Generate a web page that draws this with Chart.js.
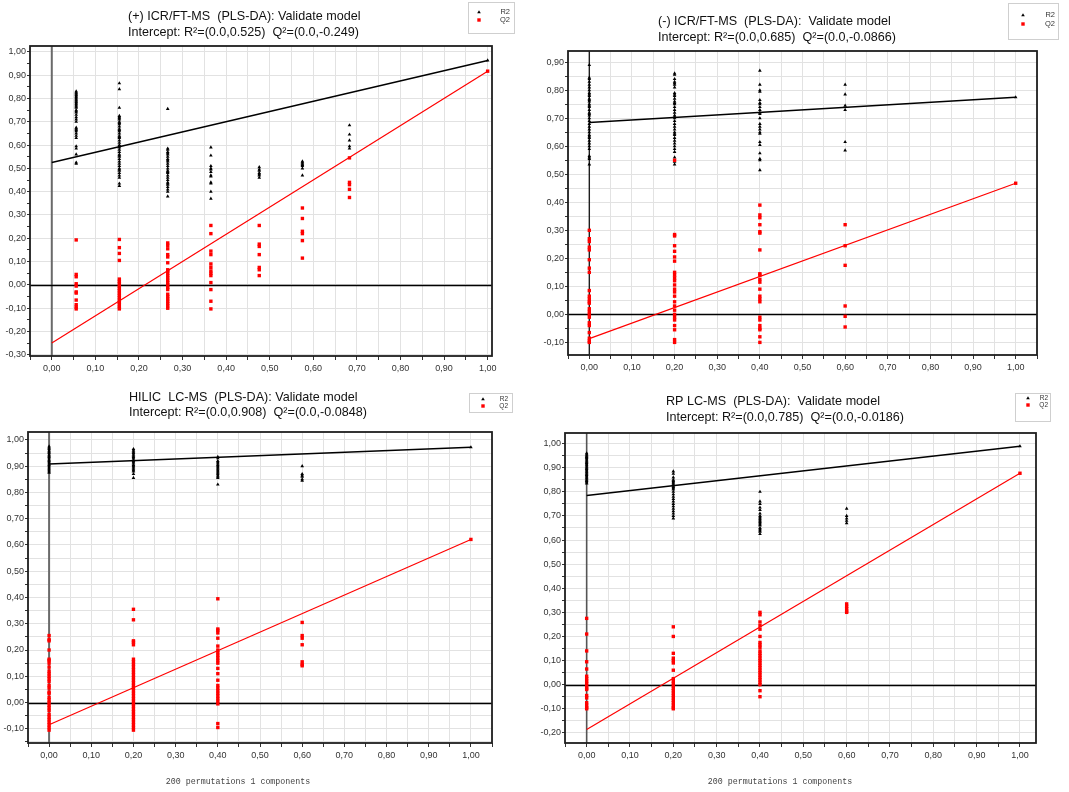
<!DOCTYPE html>
<html>
<head>
<meta charset="utf-8">
<script src="https://cdn.jsdelivr.net/npm/chart.js@4.4.1/dist/chart.umd.min.js"></script>
<style>
  html, body { margin: 0; padding: 0; background: #fff; }
  #wrap { position: relative; width: 1069px; height: 792px; overflow: hidden; }
  canvas { position: absolute; }
</style>
</head>
<body>
<div id="wrap">
  <canvas id="c1" width="534" height="380" style="left:0;top:0"></canvas>
  <canvas id="c2" width="535" height="380" style="left:534px;top:0"></canvas>
  <canvas id="c3" width="534" height="412" style="left:0;top:380px"></canvas>
  <canvas id="c4" width="535" height="412" style="left:534px;top:380px"></canvas>
</div>
<script>
// ---------- shared axis labels ----------
const xTickLabels = [0, 0.1, 0.2, 0.3, 0.4, 0.5, 0.6, 0.7, 0.8, 0.9, 1.0];
const seriesNames = ['R2', 'Q2'];
const footerText = '200 permutations 1 components';

// ---------- (+) ICR/FT-MS ----------
const posTitle = ['(+) ICR/FT-MS  (PLS-DA): Validate model', 'Intercept: R\u00b2=(0.0,0.525)  Q\u00b2=(0.0,-0.249)'];
const posCorr = [0.056, 0.155, 0.266, 0.365, 0.476, 0.575, 0.683];
const posR2 = [
  [0.83,0.825,0.82,0.815,0.81,0.805,0.80,0.795,0.79,0.785,0.78,0.775,0.77,0.765,0.76,0.75,0.745,0.74,0.73,0.72,0.71,0.70,0.675,0.67,0.665,0.66,0.65,0.64,0.63,0.595,0.585,0.56,0.525,0.52],
  [0.865,0.84,0.76,0.725,0.72,0.715,0.71,0.70,0.695,0.69,0.68,0.67,0.665,0.66,0.65,0.64,0.635,0.63,0.62,0.61,0.60,0.595,0.59,0.58,0.57,0.56,0.555,0.55,0.54,0.53,0.52,0.51,0.50,0.495,0.49,0.48,0.47,0.46,0.435,0.425],
  [0.755,0.585,0.58,0.57,0.565,0.56,0.55,0.54,0.535,0.53,0.52,0.51,0.50,0.49,0.485,0.48,0.47,0.46,0.45,0.44,0.435,0.43,0.42,0.41,0.40,0.38],
  [0.59,0.555,0.51,0.50,0.495,0.485,0.47,0.465,0.44,0.435,0.40,0.37],
  [0.505,0.495,0.49,0.48,0.475,0.47,0.46],
  [0.53,0.525,0.52,0.515,0.51,0.50,0.47],
  [0.685,0.645,0.62,0.595,0.585]
];
const posQ2 = [
  [0.193,0.045,0.035,0.005,-0.005,-0.03,-0.035,-0.065,-0.085,-0.095,-0.103],
  [0.195,0.16,0.135,0.105,0.025,0.015,0.005,-0.005,-0.015,-0.025,-0.035,-0.045,-0.055,-0.065,-0.075,-0.085,-0.095,-0.103],
  [0.18,0.17,0.155,0.13,0.12,0.095,0.065,0.06,0.05,0.04,0.03,0.02,0.01,0.0,-0.01,-0.02,-0.04,-0.05,-0.06,-0.07,-0.08,-0.09,-0.10],
  [0.255,0.22,0.145,0.13,0.09,0.075,0.06,0.05,0.04,0.01,-0.02,-0.07,-0.103],
  [0.255,0.175,0.165,0.13,0.075,0.065,0.04],
  [0.33,0.285,0.23,0.22,0.19,0.115],
  [0.545,0.44,0.43,0.41,0.375]
];
const posModel = [0.963, 0.917];
const posIntercept = [0.525, -0.249];
const posYTicks = [-0.3,-0.2,-0.1,0,0.1,0.2,0.3,0.4,0.5,0.6,0.7,0.8,0.9,1.0];

// ---------- (-) ICR/FT-MS ----------
const negTitle = ['(-) ICR/FT-MS  (PLS-DA):  Validate model', 'Intercept: R\u00b2=(0.0,0.685)  Q\u00b2=(0.0,-0.0866)'];
const negCorr = [0, 0.2, 0.4, 0.6];
const negR2 = [
  [0.89,0.845,0.84,0.83,0.82,0.81,0.80,0.79,0.785,0.78,0.77,0.765,0.76,0.75,0.745,0.74,0.73,0.72,0.715,0.71,0.70,0.69,0.68,0.67,0.66,0.65,0.64,0.635,0.63,0.62,0.61,0.60,0.59,0.565,0.56,0.555,0.535],
  [0.86,0.855,0.84,0.83,0.825,0.82,0.81,0.79,0.785,0.78,0.77,0.76,0.755,0.75,0.74,0.73,0.72,0.71,0.705,0.70,0.69,0.68,0.67,0.66,0.65,0.645,0.64,0.63,0.62,0.61,0.60,0.59,0.58,0.56,0.545,0.535],
  [0.87,0.82,0.80,0.795,0.765,0.755,0.75,0.74,0.73,0.72,0.715,0.70,0.68,0.67,0.66,0.65,0.645,0.615,0.605,0.575,0.555,0.55,0.515],
  [0.82,0.785,0.745,0.73,0.615,0.585]
];
const negQ2 = [
  [0.30,0.27,0.26,0.24,0.23,0.195,0.165,0.15,0.085,0.065,0.055,0.045,0.04,0.02,0.01,0.0,-0.01,-0.03,-0.04,-0.065,-0.085,-0.095,-0.10],
  [0.55,0.285,0.28,0.245,0.225,0.205,0.19,0.15,0.14,0.13,0.12,0.105,0.09,0.08,0.065,0.045,0.03,0.015,0.0,-0.01,-0.02,-0.04,-0.055,-0.09,-0.10],
  [0.39,0.355,0.345,0.32,0.295,0.29,0.23,0.145,0.14,0.125,0.115,0.09,0.065,0.055,0.045,-0.01,-0.02,-0.04,-0.05,-0.055,-0.08,-0.10],
  [0.32,0.245,0.175,0.03,-0.007,-0.045]
];
const negModel = [0.775, 0.468];
const negIntercept = [0.685, -0.0866];
const negYTicks = [-0.1,0,0.1,0.2,0.3,0.4,0.5,0.6,0.7,0.8,0.9];

// ---------- HILIC LC-MS ----------
const hilicTitle = ['HILIC  LC-MS  (PLS-DA): Validate model', 'Intercept: R\u00b2=(0.0,0.908)  Q\u00b2=(0.0,-0.0848)'];
const hilicCorr = [0, 0.2, 0.4, 0.6];
const hilicR2 = [
  [0.975,0.97,0.965,0.96,0.955,0.95,0.945,0.94,0.935,0.93,0.925,0.92,0.915,0.91,0.905,0.90,0.895,0.89,0.885,0.88,0.875],
  [0.965,0.96,0.955,0.95,0.945,0.94,0.935,0.93,0.925,0.92,0.915,0.91,0.905,0.90,0.895,0.89,0.885,0.88,0.87,0.855],
  [0.935,0.93,0.92,0.915,0.91,0.905,0.90,0.895,0.89,0.885,0.88,0.875,0.87,0.865,0.86,0.855,0.83],
  [0.90,0.87,0.865,0.86,0.85,0.845]
];
const hilicQ2 = [
  [0.255,0.24,0.235,0.20,0.165,0.16,0.15,0.135,0.12,0.11,0.10,0.09,0.08,0.065,0.055,0.04,0.035,0.02,0.01,0.0,-0.01,-0.02,-0.03,-0.045,-0.055,-0.065,-0.075,-0.085,-0.095,-0.105],
  [0.355,0.315,0.235,0.23,0.22,0.165,0.155,0.145,0.135,0.125,0.115,0.105,0.095,0.085,0.075,0.065,0.055,0.045,0.035,0.025,0.015,0.005,-0.005,-0.015,-0.025,-0.035,-0.045,-0.055,-0.065,-0.075,-0.085,-0.095,-0.105],
  [0.395,0.28,0.275,0.265,0.245,0.215,0.20,0.19,0.18,0.17,0.16,0.15,0.13,0.11,0.085,0.065,0.055,0.045,0.035,0.025,0.015,0.005,-0.005,-0.08,-0.095],
  [0.305,0.255,0.245,0.22,0.155,0.145,0.14]
];
const hilicModel = [0.972, 0.621];
const hilicIntercept = [0.908, -0.0848];
const hilicYTicks = [-0.1,0,0.1,0.2,0.3,0.4,0.5,0.6,0.7,0.8,0.9,1.0];

// ---------- RP LC-MS ----------
const rpTitle = ['RP LC-MS  (PLS-DA):  Validate model', 'Intercept: R\u00b2=(0.0,0.785)  Q\u00b2=(0.0,-0.0186)'];
const rpCorr = [0, 0.2, 0.4, 0.6];
const rpR2 = [
  [0.96,0.955,0.95,0.945,0.94,0.935,0.93,0.925,0.92,0.915,0.91,0.905,0.90,0.895,0.89,0.885,0.88,0.875,0.87,0.865,0.86,0.855,0.85,0.845,0.84,0.835],
  [0.885,0.875,0.86,0.85,0.845,0.84,0.835,0.83,0.825,0.82,0.815,0.81,0.80,0.79,0.78,0.77,0.76,0.75,0.74,0.73,0.72,0.71,0.70,0.69],
  [0.80,0.76,0.75,0.735,0.725,0.71,0.70,0.695,0.69,0.685,0.68,0.675,0.67,0.665,0.66,0.65,0.645,0.64,0.635,0.625],
  [0.73,0.70,0.69,0.68,0.67]
];
const rpQ2 = [
  [0.275,0.21,0.14,0.095,0.065,0.035,0.025,0.015,0.005,-0.005,-0.015,-0.02,-0.045,-0.055,-0.075,-0.085,-0.095,-0.10],
  [0.24,0.20,0.13,0.11,0.10,0.09,0.06,0.025,0.015,0.005,-0.005,-0.015,-0.025,-0.035,-0.045,-0.055,-0.065,-0.075,-0.085,-0.095,-0.10],
  [0.30,0.29,0.26,0.245,0.23,0.20,0.175,0.165,0.155,0.14,0.13,0.12,0.11,0.10,0.09,0.08,0.07,0.06,0.05,0.04,0.03,0.02,0.01,0.0,-0.025,-0.05],
  [0.335,0.325,0.315,0.305,0.30]
];
const rpModel = [0.989, 0.877];
const rpIntercept = [0.785, -0.186];
const rpYTicks = [-0.2,-0.1,0,0.1,0.2,0.3,0.4,0.5,0.6,0.7,0.8,0.9,1.0];

// ---------- helpers ----------
Chart.defaults.font.family = '"Liberation Sans", Arial, sans-serif';
Chart.defaults.animation = false;

const fmt = v => (Math.abs(v) < 1e-9 ? 0 : v).toFixed(2).replace('.', ',');
const onTenth = v => Math.abs(v * 10 - Math.round(v * 10)) < 1e-6;

// labelled ticks plus a half step between neighbours (for grid and tick marks)
function withHalves(labels, lo, hi) {
  const out = [];
  const first = labels[0], last = labels[labels.length - 1];
  if (first - 0.05 >= lo - 1e-9) out.push(+(first - 0.05).toFixed(3));
  labels.forEach((v, i) => {
    out.push(v);
    if (i < labels.length - 1) out.push(+((v + labels[i + 1]) / 2).toFixed(3));
  });
  if (last + 0.05 <= hi + 1e-9) out.push(+(last + 0.05).toFixed(3));
  return out.filter(v => v >= lo - 1e-9 && v <= hi + 1e-9);
}

function points(xs, groups, model) {
  const pts = [];
  groups.forEach((g, i) => g.forEach(v => pts.push({ x: xs[i], y: v })));
  pts.push({ x: 1.0, y: model });
  return pts;
}

function decorPlugin(p) {
  return {
    id: 'panelDecor',
    beforeDatasetsDraw(chart) {
      const { ctx, chartArea: a, scales: { x, y } } = chart;
      ctx.save();
      ctx.beginPath();
      ctx.rect(a.left, a.top, a.right - a.left, a.bottom - a.top);
      ctx.clip();
      const x0 = x.getPixelForValue(0);
      ctx.strokeStyle = p.zeroXColor;
      ctx.lineWidth = p.zeroXWidth;
      ctx.beginPath(); ctx.moveTo(x0, a.top); ctx.lineTo(x0, a.bottom); ctx.stroke();
      const y0 = Math.round(y.getPixelForValue(0)) + 0.5;
      ctx.strokeStyle = '#000';
      ctx.lineWidth = 1.3;
      ctx.beginPath(); ctx.moveTo(a.left, y0); ctx.lineTo(a.right, y0); ctx.stroke();
      ctx.restore();
    },
    afterDraw(chart) {
      const { ctx, chartArea: a } = chart;
      ctx.save();
      // plot frame
      ctx.strokeStyle = '#1e1e1e';
      ctx.lineWidth = 1.8;
      ctx.strokeRect(a.left, a.top, a.right - a.left, a.bottom - a.top);
      // titles
      ctx.fillStyle = '#111';
      ctx.font = '12.6px "Liberation Sans", Arial, sans-serif';
      ctx.textBaseline = 'middle';
      ctx.textAlign = 'left';
      p.title.forEach((t, i) => ctx.fillText(t, p.titleX, p.titleY[i]));
      // legend box
      const L = p.legend;
      ctx.fillStyle = '#fff';
      ctx.fillRect(L.x, L.y, L.w, L.h);
      ctx.strokeStyle = '#cfcfcf';
      ctx.lineWidth = 1;
      ctx.strokeRect(L.x + 0.5, L.y + 0.5, L.w, L.h);
      ctx.fillStyle = '#000';
      ctx.beginPath();
      ctx.moveTo(L.mx, L.ry - 1.8);
      ctx.lineTo(L.mx + 1.8, L.ry + 1.3);
      ctx.lineTo(L.mx - 1.8, L.ry + 1.3);
      ctx.closePath();
      ctx.fill();
      ctx.fillStyle = '#ff0000';
      ctx.fillRect(L.mx - 1.7, L.qy - 1.7, 3.4, 3.4);
      ctx.fillStyle = '#333';
      ctx.font = L.fs + 'px "Liberation Sans", Arial, sans-serif';
      ctx.textAlign = 'right';
      ctx.fillText(chart.data.datasets[2].label, L.tx, L.ry);
      ctx.fillText(chart.data.datasets[3].label, L.tx, L.qy);
      // footer
      if (p.footer) {
        ctx.font = '8.3px "Liberation Mono", "Courier New", monospace';
        ctx.fillStyle = '#444';
        ctx.textAlign = 'center';
        ctx.fillText(footerText, p.footer.x, p.footer.y);
      }
      ctx.restore();
    }
  };
}

function makePanel(id, p) {
  const canvas = document.getElementById(id);
  const W = canvas.width, H = canvas.height;
  const xGrid = withHalves(xTickLabels, p.xMin, p.xMax);
  const yGrid = withHalves(p.yTicks, p.yMin, p.yMax);
  const xAxisH = 26;
  new Chart(canvas, {
    data: {
      datasets: [
        { type: 'line', label: 'R2 fit', data: [{ x: 0, y: p.intercept[0] }, { x: 1, y: p.model[0] }],
          borderColor: '#000', borderWidth: 1.4, pointRadius: 0, order: 0 },
        { type: 'line', label: 'Q2 fit', data: [{ x: 0, y: p.intercept[1] }, { x: 1, y: p.model[1] }],
          borderColor: '#ff0000', borderWidth: 1.2, pointRadius: 0, order: 0 },
        { type: 'scatter', label: seriesNames[0], data: points(p.corr, p.r2, p.model[0]),
          pointStyle: 'triangle', pointRadius: 2.1, backgroundColor: '#000', borderWidth: 0, order: 2 },
        { type: 'scatter', label: seriesNames[1], data: points(p.corr, p.q2, p.model[1]),
          pointStyle: 'rect', pointRadius: 2.4, backgroundColor: '#ff0000', borderWidth: 0, order: 1 }
      ]
    },
    options: {
      responsive: false,
      animation: false,
      events: [],
      layout: { padding: { left: 0, top: p.area.top, right: W - p.area.right, bottom: H - p.area.bottom - xAxisH } },
      plugins: { legend: { display: false }, tooltip: { enabled: false }, title: { display: false } },
      scales: {
        x: {
          type: 'linear', min: p.xMin, max: p.xMax,
          afterBuildTicks: s => { s.ticks = xGrid.map(v => ({ value: v })); },
          afterFit: s => { s.height = xAxisH; },
          ticks: { autoSkip: false, maxRotation: 0, padding: 3, color: '#333', font: { size: 9 },
                   callback: v => onTenth(v) ? fmt(v) : '' },
          grid: { color: '#e2e2e2', lineWidth: 1, tickLength: 4, tickColor: '#333', tickWidth: 1 },
          border: { display: false }
        },
        y: {
          type: 'linear', min: p.yMin, max: p.yMax,
          afterBuildTicks: s => { s.ticks = yGrid.map(v => ({ value: v })); },
          afterFit: s => { s.width = p.area.left; },
          ticks: { autoSkip: false, padding: 1, color: '#333', font: { size: 9 },
                   callback: v => onTenth(v) ? fmt(v) : '' },
          grid: { color: ctx => (p.yMinorGrid || onTenth(ctx.tick.value)) ? '#e2e2e2' : 'rgba(0,0,0,0)',
                  lineWidth: 1, tickLength: 3, tickColor: '#333', tickWidth: 1 },
          border: { display: false }
        }
      }
    },
    plugins: [decorPlugin(p)]
  });
}

makePanel('c1', {
  title: posTitle, titleX: 128, titleY: [17, 33],
  corr: posCorr, r2: posR2, q2: posQ2, model: posModel, intercept: posIntercept,
  xMin: -0.05, xMax: 1.01, yMin: -0.305, yMax: 1.025, yTicks: posYTicks, yMinorGrid: false,
  area: { left: 30, top: 46, right: 492, bottom: 356 },
  zeroXColor: '#6a6a6a', zeroXWidth: 2,
  legend: { x: 468, y: 2, w: 46, h: 31, mx: 479, tx: 510, ry: 12, qy: 20, fs: 7.5 }
});
makePanel('c2', {
  title: negTitle, titleX: 124, titleY: [22, 38],
  corr: negCorr, r2: negR2, q2: negQ2, model: negModel, intercept: negIntercept,
  xMin: -0.05, xMax: 1.05, yMin: -0.145, yMax: 0.94, yTicks: negYTicks, yMinorGrid: true,
  area: { left: 34, top: 51, right: 503, bottom: 355 },
  zeroXColor: '#1e1e1e', zeroXWidth: 1.4,
  legend: { x: 474, y: 3, w: 50, h: 36, mx: 489, tx: 521, ry: 15, qy: 24, fs: 7.5 }
});
makePanel('c3', {
  title: hilicTitle, titleX: 129, titleY: [18, 33],
  corr: hilicCorr, r2: hilicR2, q2: hilicQ2, model: hilicModel, intercept: hilicIntercept,
  xMin: -0.05, xMax: 1.05, yMin: -0.154, yMax: 1.03, yTicks: hilicYTicks, yMinorGrid: true,
  area: { left: 28, top: 52, right: 492, bottom: 363 },
  zeroXColor: '#6a6a6a', zeroXWidth: 2,
  legend: { x: 469, y: 13, w: 43, h: 19, mx: 483, tx: 508, ry: 19, qy: 26, fs: 6.5 },
  footer: { x: 238, y: 402 }
});
makePanel('c4', {
  title: rpTitle, titleX: 132, titleY: [22, 38],
  corr: rpCorr, r2: rpR2, q2: rpQ2, model: rpModel, intercept: rpIntercept,
  xMin: -0.05, xMax: 1.037, yMin: -0.242, yMax: 1.044, yTicks: rpYTicks, yMinorGrid: true,
  area: { left: 31, top: 53, right: 502, bottom: 363 },
  zeroXColor: '#555', zeroXWidth: 1.6,
  legend: { x: 481, y: 13, w: 35, h: 28, mx: 494, tx: 514, ry: 18, qy: 25, fs: 6.5 },
  footer: { x: 246, y: 402 }
});
</script>
</body>
</html>
